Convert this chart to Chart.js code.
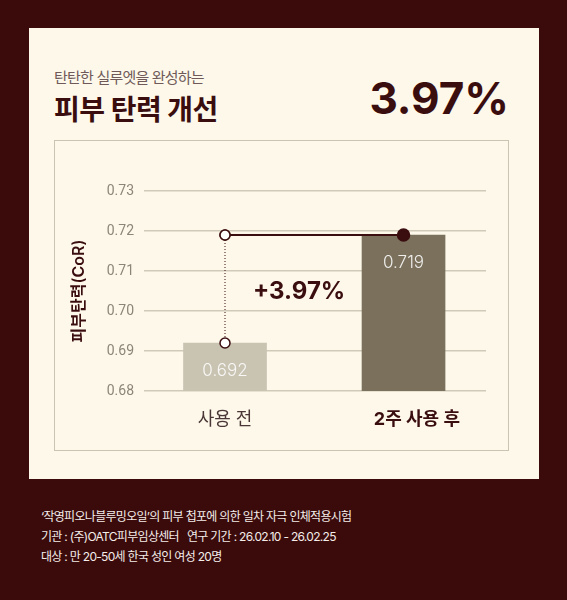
<!DOCTYPE html>
<html>
<head>
<meta charset="utf-8">
<script src="https://cdn.jsdelivr.net/npm/chart.js@4.4.1/dist/chart.umd.min.js"></script>
<style>
  html, body { margin: 0; padding: 0; }
  body {
    width: 567px; height: 600px; position: relative; overflow: hidden;
    background: #3b0b0c;
    font-family: "Inter", "Noto Sans CJK KR", sans-serif;
  }
  #card {
    position: absolute; left: 29px; top: 28px; width: 510px; height: 451px;
    background: #fdf8ea;
  }
  #sub {
    position: absolute; left: 25px; top: 38px; font-size: 15px; color: #6f5a59;
    letter-spacing: -0.8px; white-space: nowrap;
  }
  #title {
    position: absolute; left: 25px; top: 60px; font-size: 28px; font-weight: 700;
    color: #3a0d0f; letter-spacing: -0.5px; white-space: nowrap;
  }
  #big {
    position: absolute; right: 30px; top: 43px; font-size: 44px; font-weight: 700;
    color: #3a0d0f; white-space: nowrap;
  }
  #box {
    position: absolute; left: 25px; top: 112px; width: 455px; height: 311px;
    box-sizing: border-box; border: 1px solid #cbc4b2;
  }
  #box canvas { position: absolute; left: 0; top: 0; }
  #foot {
    position: absolute; left: 41px; top: 507px; font-size: 12px; color: #f4ede9;
    letter-spacing: -0.7px; line-height: 20px; white-space: pre;
  }
</style>
</head>
<body>
<div id="card">
  <div id="sub">탄탄한 실루엣을 완성하는</div>
  <div id="title">피부 탄력 개선</div>
  <div id="big">3.97%</div>
  <div id="box"><canvas id="myChart" width="453" height="309"></canvas></div>
</div>
<div id="foot">‘작영피오나블루밍오일’의 피부 첩포에 의한 일차 자극 인체적용시험
기관 : (주)OATC피부임상센터   연구 기간 : 26.02.10 - 26.02.25
대상 : 만 20-50세 한국 성인 여성 20명</div>

<script>
const categories = ["사용 전", "2주 사용 후"];
const values = [0.692, 0.719];
const barColors = ["#c9c3b2", "#7a705c"];
const yMin = 0.68;
const yMax = 0.73;
const yStep = 0.01;
const changeLabel = "+3.97%";
const axisTitle = "피부탄력(CoR)";

const dark = "#3a0d0f";

// value labels inside bars + the change label between bars
const labelPlugin = {
  id: "labels",
  afterDatasetsDraw(chart) {
    const c = chart.ctx;
    const meta = chart.getDatasetMeta(2);
    c.save();
    c.textAlign = "center";
    c.textBaseline = "middle";
    c.font = "300 17px Inter, 'Noto Sans CJK KR'";
    c.fillStyle = "rgba(255,255,255,0.88)";
    meta.data.forEach((bar, i) => {
      const mid = (bar.y + bar.base) / 2;
      const y = Math.min(bar.y + 28, mid);
      c.fillText(values[i].toFixed(3), bar.x, y);
    });
    const xs = chart.scales.x, ys = chart.scales.y;
    c.font = "700 24px Inter, 'Noto Sans CJK KR'";
    c.fillStyle = dark;
    c.fillText(changeLabel, xs.getPixelForValue(0.415), ys.getPixelForValue((values[0] + values[1]) / 2 - 0.0007));
    c.restore();
  }
};

new Chart(document.getElementById("myChart"), {
  type: "bar",
  data: {
    datasets: [
      {
        type: "line",
        data: [{ x: 0, y: values[1] }, { x: 1, y: values[1] }],
        borderColor: dark,
        borderWidth: 2,
        pointRadius: [5, 6],
        pointBackgroundColor: ["#ffffff", dark],
        pointBorderColor: dark,
        pointBorderWidth: 1.5,
        order: 1,
      },
      {
        type: "line",
        data: [{ x: 0, y: values[0] }, { x: 0, y: values[1] }],
        borderColor: dark,
        borderWidth: 1,
        borderDash: [1, 2],
        pointRadius: 5,
        pointBackgroundColor: "#ffffff",
        pointBorderColor: dark,
        pointBorderWidth: 1.5,
        order: 2,
      },
      {
        data: values.map((v, i) => ({ x: i, y: v })),
        backgroundColor: barColors,
        barThickness: 83,
        order: 3,
      },
    ],
  },
  options: {
    responsive: false,
    animation: false,
    layout: { padding: { left: 0, top: 50, right: 22, bottom: 0 } },
    plugins: {
      legend: { display: false },
      tooltip: { enabled: false },
    },
    scales: {
      x: {
        type: "linear",
        min: -0.4538,
        max: 1.462,
        offset: false,
        grid: { display: false },
        border: { display: false },
        afterFit: (s) => { s.height = 59; },
        // second label sits a little right of its bar in the original
        afterBuildTicks: (s) => { s.ticks = [{ value: 0 }, { value: 1.075 }]; },
        ticks: {
          padding: 10,
          autoSkip: false,
          maxRotation: 0,
          callback: (v, i) => categories[i] ?? "",
          color: (c) => (c.index === 1 ? dark : "#4a3636"),
          font: (c) => ({
            family: "Inter, 'Noto Sans CJK KR'",
            size: 18,
            weight: c.index === 1 ? "700" : "400",
          }),
        },
      },
      y: {
        min: yMin,
        max: yMax,
        afterFit: (s) => { s.width = 89; },
        grid: { color: "#d1cab9", lineWidth: 1.5, drawTicks: false },
        border: { display: false },
        title: {
          display: true,
          text: axisTitle,
          color: dark,
          font: { family: "Inter, 'Noto Sans CJK KR'", size: 16, weight: "600" },
          padding: { top: 15, bottom: 0 },
        },
        ticks: {
          stepSize: yStep,
          padding: 10,
          color: "#8d8678",
          font: { family: "Roboto", size: 14 },
          callback: (v) => v.toFixed(2),
        },
      },
    },
  },
  plugins: [labelPlugin],
});
</script>
</body>
</html>
